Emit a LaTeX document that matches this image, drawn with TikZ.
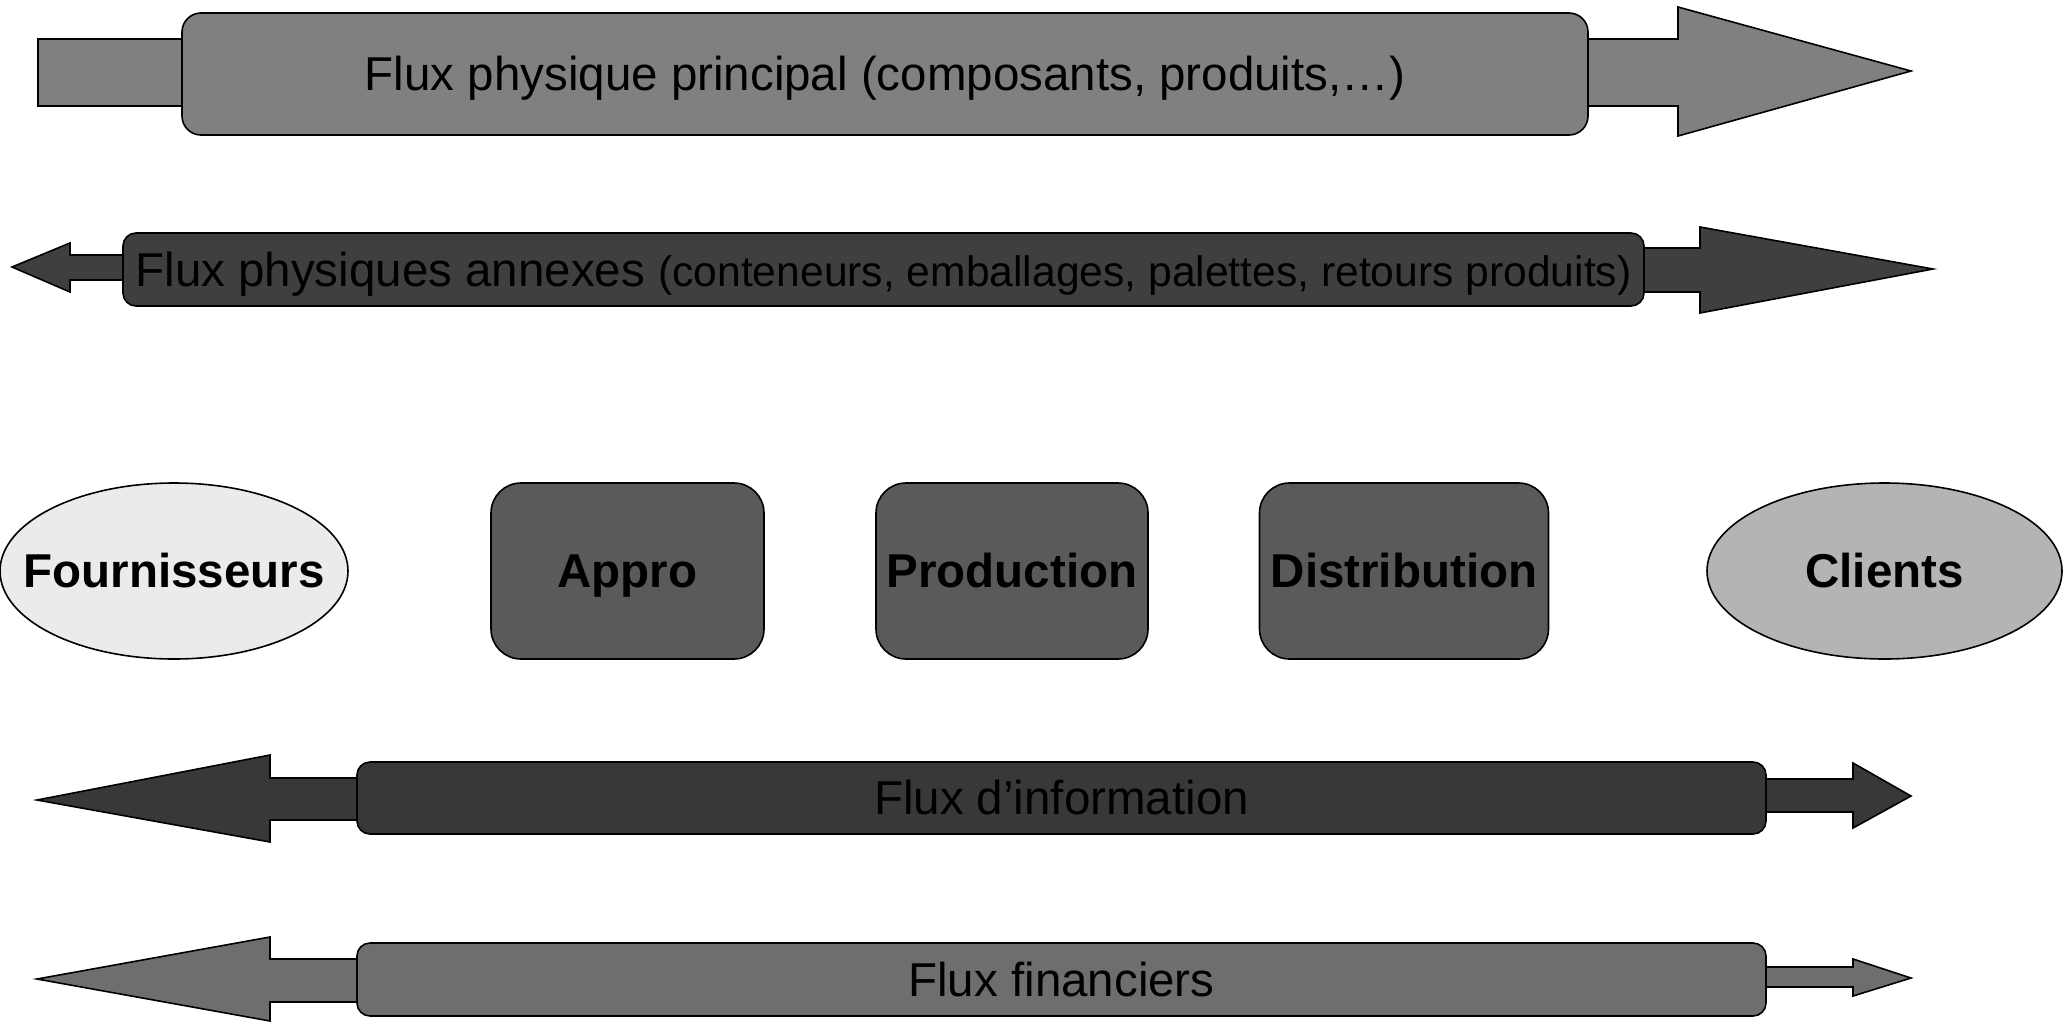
\documentclass[tikz,border=0pt]{standalone}
\usepackage{fontspec}
\setmainfont{Liberation Sans}
\usetikzlibrary{shapes.geometric}

\definecolor{mainflow}{HTML}{808080}
\definecolor{sideflow}{HTML}{3F3F3F}
\definecolor{infoflow}{HTML}{383838}
\definecolor{moneyflow}{HTML}{6E6E6E}
\definecolor{stage}{HTML}{5A5A5A}
\definecolor{supplier}{HTML}{EBEBEB}
\definecolor{customer}{HTML}{B4B4B4}

\tikzset{
  outline/.style={draw=black, line width=0.8pt, line join=miter},
  bigtext/.style={font=\fontsize{23.75}{28}\selectfont, text height=21.5pt, text depth=5pt},
  boldtext/.style={bigtext, font=\bfseries\fontsize{23.75}{28}\selectfont},
  band/.style={outline, rectangle, rounded corners=#1, inner sep=0pt, bigtext},
  stagebox/.style={outline, rectangle, rounded corners=15pt, fill=stage, inner sep=0pt,
    minimum height=88pt, boldtext},
  % the ellipse keeps its own size; its name is set as a centred label
  partner/.style={outline, ellipse, inner sep=0pt, minimum height=88pt,
    label={[boldtext, inner sep=0pt]center:#1}},
}

\begin{document}
\begin{tikzpicture}[x=0.5pt, y=-0.5pt]
\useasboundingbox (0,0) rectangle (2066,1023);

% --- block-arrow tails and heads, drawn under the bands ---
% main physical flow
\draw[outline, fill=mainflow] (38,39) rectangle (200,106);
\draw[outline, fill=mainflow] (1560,39) -- (1678,39) -- (1678,7) -- (1911,71)
  -- (1678,136) -- (1678,106) -- (1560,106) -- cycle;
% secondary physical flows
\draw[outline, fill=sideflow] (140,255) -- (70,255) -- (70,243) -- (12,267)
  -- (70,292) -- (70,280) -- (140,280) -- cycle;
\draw[outline, fill=sideflow] (1620,248) -- (1700,248) -- (1700,227) -- (1933,269)
  -- (1700,313) -- (1700,292) -- (1620,292) -- cycle;
% information flow
\draw[outline, fill=infoflow] (380,778) -- (270,778) -- (270,755) -- (37,800)
  -- (270,842) -- (270,820) -- (380,820) -- cycle;
\draw[outline, fill=infoflow] (1740,779) -- (1853,779) -- (1853,763) -- (1911,796)
  -- (1853,828) -- (1853,812) -- (1740,812) -- cycle;
% financial flow
\draw[outline, fill=moneyflow] (380,959) -- (270,959) -- (270,937) -- (37,979)
  -- (270,1021) -- (270,1002) -- (380,1002) -- cycle;
\draw[outline, fill=moneyflow] (1740,967) -- (1853,967) -- (1853,959) -- (1911,978)
  -- (1853,996) -- (1853,987) -- (1740,987) -- cycle;

% --- bands ---
\node[band=9.5pt, fill=mainflow, minimum width=703pt, minimum height=61pt]
  (main) at (885,74) {Flux physique principal (composants, produits,…)};
\node[band=6.5pt, fill=sideflow, minimum width=760.5pt, minimum height=36.5pt]
  (side) at (883.5,269.5) {Flux physiques annexes {\fontsize{21.3}{26}\selectfont(conteneurs, emballages, palettes, retours produits)}};
\node[band=6.5pt, fill=infoflow, minimum width=704.5pt, minimum height=36pt]
  (info) at (1061.5,798) {Flux d’information};
\node[band=6.5pt, fill=moneyflow, minimum width=704.5pt, minimum height=36.5pt]
  (money) at (1061.5,979.5) {Flux financiers};

% --- supply chain actors ---
\node[partner=Fournisseurs, fill=supplier, minimum width=174pt] (four) at (174,571) {};
\node[stagebox, minimum width=136.5pt] (appro) at (627.5,571) {Appro};
\node[stagebox, minimum width=136pt] (prod) at (1012,571) {Production};
\node[stagebox, minimum width=144.5pt] (dist) at (1404,571) {Distribution};
\node[partner=Clients, fill=customer, minimum width=177.5pt] (cli) at (1884.5,571) {};
\end{tikzpicture}
\end{document}
